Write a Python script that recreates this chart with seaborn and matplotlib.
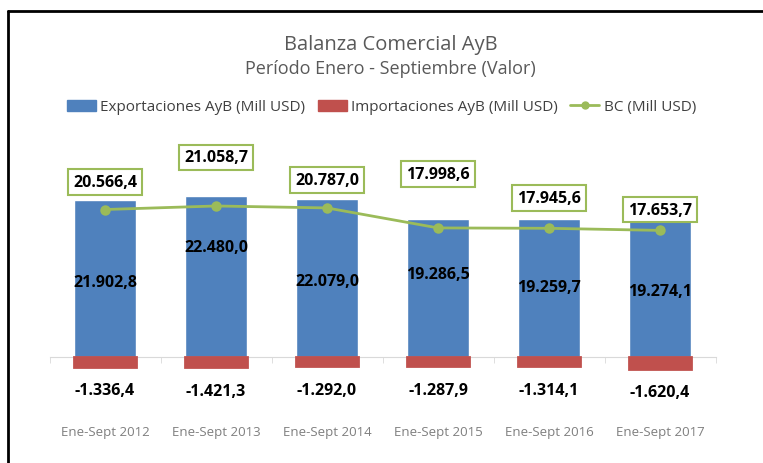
import numpy as np
import matplotlib
matplotlib.use('Agg')
import matplotlib.pyplot as plt
import seaborn as sns
from matplotlib.patches import Patch
from matplotlib.lines import Line2D

periodos = ['Ene-Sept 2012', 'Ene-Sept 2013', 'Ene-Sept 2014',
            'Ene-Sept 2015', 'Ene-Sept 2016', 'Ene-Sept 2017']
exportaciones = [21902.8, 22480.0, 22079.0, 19286.5, 19259.7, 19274.1]
importaciones = [-1336.4, -1421.3, -1292.0, -1287.9, -1314.1, -1620.4]
bc = [20566.4, 21058.7, 20787.0, 17998.6, 17945.6, 17653.7]

# donde va la etiqueta de exportaciones (fraccion de la barra) y
# desplazamiento de la caja de BC (puntos)
pos_exp = [0.48, 0.68, 0.48, 0.60, 0.51, 0.48]
off_bc = [20, 35, 20, 39, 22, 15]

AZUL = '#4F81BD'
ROJO = '#C0504D'
VERDE = '#9BBB59'


def fmt(v):
    # formato espanol: 21.902,8
    return f'{v:,.1f}'.replace(',', 'X').replace('.', ',').replace('X', '.')


sns.set_style('white')
plt.rcParams['font.family'] = ['Open Sans', 'DejaVu Sans']

fig = plt.figure(figsize=(7.63, 4.64), dpi=100)
ax = fig.add_axes([49.5 / 763, 44 / 464, 666 / 763, 280 / 464])

sns.barplot(x=periodos, y=exportaciones, color=AZUL, width=0.56,
            saturation=1, ax=ax, zorder=3)
sns.barplot(x=periodos, y=importaciones, color=ROJO, width=0.56,
            saturation=1, ax=ax, zorder=3, edgecolor=ROJO, linewidth=2)
sns.pointplot(x=periodos, y=bc, color=VERDE, markers='o', errorbar=None,
              ax=ax, markersize=6, linewidth=2)
for coll in ax.collections + ax.lines:
    coll.set_zorder(4)

ax.set_xlim(-0.5, 5.5)
ax.set_ylim(-8650, 30400)
ax.set_yticks([])
ax.set_ylabel('')
for s in ['top', 'right', 'left']:
    ax.spines[s].set_visible(False)
ax.spines['bottom'].set_position(('data', 0))
ax.spines['bottom'].set_color('#D9D9D9')
ax.spines['bottom'].set_zorder(1)
ax.set_xticks(np.arange(len(periodos)))
ax.set_xticklabels(periodos, fontsize=9.5, color='#7F7F7F')
ax.set_xticks(np.arange(-0.5, len(periodos)), minor=True)
ax.tick_params(axis='x', which='major', length=0, pad=49)
ax.tick_params(axis='x', which='minor', length=4, color='#D9D9D9', bottom=True)

for i in range(len(periodos)):
    ax.text(i, exportaciones[i] * pos_exp[i], fmt(exportaciones[i]),
            ha='center', va='center', fontsize=11.5, fontweight='bold', color='black', zorder=5)
    ax.annotate(fmt(importaciones[i]), (i, importaciones[i]), xytext=(0, -17),
                textcoords='offset points', ha='center', va='center',
                fontsize=11.5, fontweight='bold', color='black')
    ax.annotate(fmt(bc[i]), (i, bc[i]), xytext=(0, off_bc[i]), textcoords='offset points',
                ha='center', va='center', fontsize=11.5, fontweight='bold', color='black',
                bbox=dict(boxstyle='square,pad=0.3', fc='white', ec=VERDE, lw=1.5), zorder=6)

fig.text(0.512, 1 - 45 / 464, 'Balanza Comercial AyB', ha='center', va='center',
         fontsize=14.5, color='#595959')
fig.text(0.512, 1 - 69 / 464, 'Período Enero - Septiembre (Valor)', ha='center', va='center',
         fontsize=13, color='#595959')

handles = [Patch(color=AZUL), Patch(color=ROJO),
           Line2D([], [], color=VERDE, lw=2, marker='o', markersize=5)]
labels = ['Exportaciones AyB (Mill USD)', 'Importaciones AyB (Mill USD)', 'BC (Mill USD)']
fig.legend(handles, labels, loc='center', bbox_to_anchor=(0.5, 1 - 108 / 464), ncol=3,
           frameon=False, fontsize=11, handlelength=1.9, handletextpad=0.3,
           columnspacing=0.8, labelcolor='#404040')

# marco (solo arriba e izquierda visibles)
fig.add_artist(Line2D([8 / 763, 1], [1 - 12 / 464] * 2, transform=fig.transFigure,
                      color='black', lw=2))
fig.add_artist(Line2D([8 / 763] * 2, [0, 1 - 12 / 464], transform=fig.transFigure,
                      color='black', lw=2))

fig.savefig('out.png', dpi=100)
